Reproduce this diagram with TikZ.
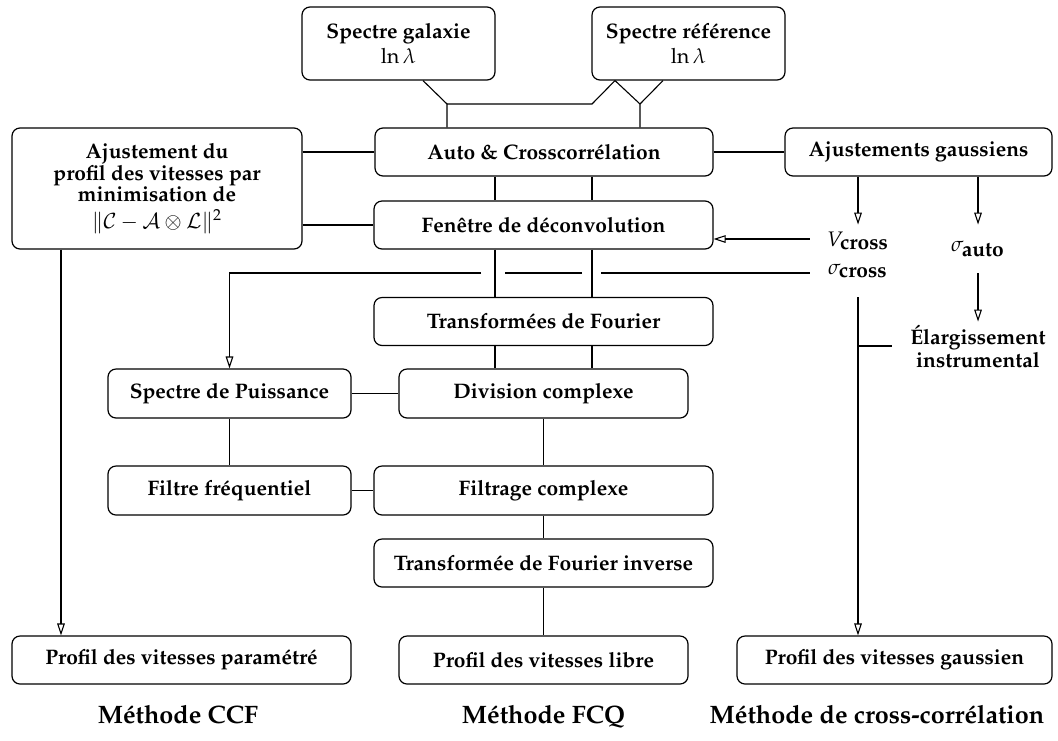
\documentclass[tikz,border=0pt]{standalone}
\usepackage[T1]{fontenc}
\usepackage{mathpazo}
\usetikzlibrary{arrows.meta}
\begin{document}
\begin{tikzpicture}[x=0.5pt,y=-0.5pt,
  every node/.style={font=\fontsize{10.5}{11}\selectfont\bfseries, align=center, inner sep=0pt},
  box/.style={draw, rounded corners=4pt, line width=0.6pt, minimum height=24pt},
  lnk/.style={line width=0.55pt},
  arr/.style={lnk, -{Triangle[open,length=6pt,width=3.8pt]}},
  ttl/.style={font=\fontsize{12.6}{15}\selectfont\bfseries, anchor=base}]
\useasboundingbox (0,0) rectangle (1058,740);

% boxes
\node[box, minimum width=96.5pt, minimum height=36.5pt] (gal) at (398.5,43.5) {Spectre galaxie\\[1.5pt]$\ln\lambda$};
\node[box, minimum width=96.5pt, minimum height=36.5pt] (ref) at (688.5,43.5) {Spectre r\'ef\'erence\\[1.5pt]$\ln\lambda$};
\node[box, minimum width=145pt, minimum height=60.5pt, font=\fontsize{10.5}{10.8}\selectfont\bfseries] (ajust) at (157,188.5) {Ajustement du\\profil des vitesses par\\minimisation de\\[2.5pt]$\|\mathcal{C}-\mathcal{A}\otimes\mathcal{L}\|^2$};
\node[box, minimum width=169pt] (auto) at (544,152) {Auto \& Crosscorr\'elation};
\node[box, minimum width=133.5pt] (gauss) at (918.5,152) {Ajustements gaussiens};
\node[box, minimum width=169.5pt] (fen) at (543.5,225) {Fen\^etre de d\'econvolution};
\node[box, minimum width=169.5pt] (tf) at (543.5,321.5) {Transform\'ees de Fourier};
\node[box, minimum width=121.5pt, minimum height=24.5pt] (sp) at (229.5,393.5) {Spectre de Puissance};
\node[box, minimum width=144.5pt, minimum height=24.5pt] (div) at (543.5,393.5) {Division complexe};
\node[box, minimum width=121.5pt, minimum height=24.5pt] (filt) at (229.5,490.5) {Filtre fr\'equentiel};
\node[box, minimum width=169.5pt, minimum height=24.5pt] (filtc) at (543.5,490.5) {Filtrage complexe};
\node[box, minimum width=169.5pt] (tfi) at (543.5,563) {Transform\'ee de Fourier inverse};
\node[box, minimum width=169.5pt] (pp) at (181.5,660) {Profil des vitesses param\'etr\'e};
\node[box, minimum width=144.5pt] (pl) at (543.5,660) {Profil des vitesses libre};
\node[box, minimum width=157.5pt] (pg) at (894.5,660) {Profil des vitesses gaussien};

% free labels
\node[minimum width=48pt, minimum height=30pt] (vc) at (858,255) {$V_{\textbf{cross}}$\\[3pt]$\sigma_{\textbf{cross}}$};
\node[minimum width=30pt, minimum height=24pt] (sa) at (978,249) {\raisebox{-3pt}{$\sigma_{\textbf{auto}}$}};
\node[minimum width=86pt, minimum height=24pt, font=\fontsize{10.5}{11.5}\selectfont\bfseries] (el) at (978,346) {\'Elargissement\\instrumental};

% titles
\node[ttl] (t1) at (178,723) {M\'ethode CCF};
\node[ttl] (t2) at (543.5,723) {M\'ethode FCQ};
\node[ttl] (t3) at (877,723) {M\'ethode de cross-corr\'elation};

% helper coordinates
\coordinate (j1) at (447,104);
\coordinate (j2) at (592,104);
\coordinate (j3) at (640,104);
\coordinate (xa) at (423,0);
\coordinate (xb) at (615,0);
\coordinate (xc) at (663,0);
\coordinate (xL) at (495,0);
\coordinate (xR) at (592,0);
\coordinate (xP) at (61,0);
\coordinate (yV) at (0,239);
\coordinate (yS) at (0,273);
\coordinate (h1) at (601,273);
\coordinate (h2) at (582,273);
\coordinate (h3) at (505,273);
\coordinate (h4) at (481,273);

% connectors
\draw[lnk] (gal.south -| xa) -- (j1) -- (auto.north -| j1);
\draw[lnk] (ref.south -| xb) -- (j2) -- (j1);
\draw[lnk] (ref.south -| xb) -- (j3) -- (auto.north -| j3);
\draw[lnk] (ref.south -| xc) -- (j3);
\draw[lnk] (ajust.east |- auto) -- (auto.west);
\draw[lnk] (ajust.east |- fen) -- (fen.west);
\draw[lnk] (auto) -- (gauss);
\draw[lnk] (auto.south -| xL) -- (fen.north -| xL);
\draw[lnk] (auto.south -| xR) -- (fen.north -| xR);
\draw[lnk] (fen.south -| xL) -- (tf.north -| xL);
\draw[lnk] (fen.south -| xR) -- (tf.north -| xR);
\draw[lnk] (tf.south -| xL) -- (div.north -| xL);
\draw[lnk] (tf.south -| xR) -- (div.north -| xR);
\draw[lnk] (sp) -- (div);
\draw[lnk] (sp) -- (filt);
\draw[lnk] (div) -- (filtc);
\draw[lnk] (filt) -- (filtc);
\draw[lnk] (filtc) -- (tfi);
\draw[lnk] (tfi) -- (pl);
\draw[arr] (ajust.south -| xP) -- (pp.north -| xP);
\draw[arr] (gauss.south -| vc) -- (vc.north);
\draw[arr] (gauss.south -| sa) -- (sa.north);
\draw[arr] (vc.west |- yV) -- (fen.east |- yV);
\draw[lnk] (vc.west |- yS) -- (h1);
\draw[lnk] (h2) -- (h3);
\draw[arr] (h4) -- (sp.north |- yS) -- (sp.north);
\draw[arr] (sa.south) -- (el.north);
\draw[arr] ([yshift=-6pt]vc.south) -- (pg.north -| vc.south);
\draw[lnk] (el.west) -- (el.west -| vc.south);
\end{tikzpicture}
\end{document}
